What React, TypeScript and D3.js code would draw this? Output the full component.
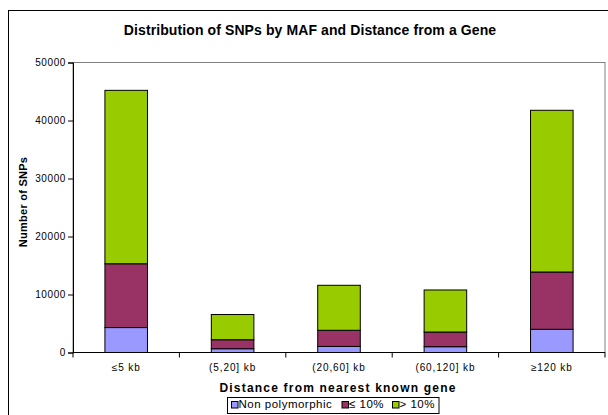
import React, { useEffect, useRef } from "react";
import * as d3 from "d3";

const categories = ["≤5 kb", "(5,20] kb", "(20,60] kb", "(60,120] kb", "≥120 kb"];
const nonPolymorphic = [4300, 650, 1050, 1000, 4000];
const mafLow = [11000, 1550, 2780, 2530, 9880];
const mafHigh = [29900, 4350, 7760, 7250, 27880];
const seriesNames = ["Non polymorphic", "≤ 10%", "> 10%"];
const seriesColors = ["#9999FF", "#993366", "#99CC00"];
const yTicks = [0, 10000, 20000, 30000, 40000, 50000];

const App = () => {
  const chartRef = useRef<SVGSVGElement>(null);

  useEffect(() => {
    const width = 608;
    const margin = { top: 62.5, right: 3, left: 73 };
    const plotBottom = 352.5;
    const font = "'Liberation Sans', Arial, sans-serif";

    const svg = d3.select(chartRef.current);
    svg.selectAll("*").remove();

    // outer chart frame
    svg
      .append("rect")
      .attr("x", 8.5)
      .attr("y", 10.5)
      .attr("width", 620)
      .attr("height", 430)
      .attr("fill", "#fff")
      .attr("stroke", "#000")
      .attr("stroke-width", 1);

    const x = d3
      .scaleBand()
      .domain(categories)
      .range([margin.left, width - margin.right])
      .paddingInner(0.6)
      .paddingOuter(0.3);

    const y = d3.scaleLinear().domain([0, 50000]).range([plotBottom, margin.top]);

    const y0 = y(0);

    // plot area border
    svg
      .append("rect")
      .attr("x", margin.left)
      .attr("y", margin.top)
      .attr("width", width - margin.right - margin.left)
      .attr("height", y0 - margin.top)
      .attr("fill", "none")
      .attr("stroke", "#808080")
      .attr("stroke-width", 1);

    const rows = categories.map((c, i) => ({
      cat: c,
      s0: nonPolymorphic[i],
      s1: mafLow[i],
      s2: mafHigh[i],
    }));
    const layers = d3.stack<any>().keys(["s0", "s1", "s2"])(rows);

    layers.forEach((layer, li) => {
      svg
        .append("g")
        .selectAll("rect")
        .data(layer)
        .enter()
        .append("rect")
        .attr("x", (d: any) => x(d.data.cat)!)
        .attr("width", x.bandwidth())
        .attr("y", (d) => y(d[1]))
        .attr("height", (d) => y(d[0]) - y(d[1]))
        .attr("fill", seriesColors[li])
        .attr("stroke", "#000")
        .attr("stroke-width", 1);
    });

    // y axis
    const yAxis = svg
      .append("g")
      .attr("transform", `translate(${margin.left}, 0)`)
      .call(d3.axisLeft(y).tickValues(yTicks).tickSize(5).tickPadding(2).tickFormat(d3.format("d")));
    yAxis.select(".domain").attr("stroke", "#000");
    yAxis
      .selectAll("text")
      .style("font-family", font)
      .style("font-size", "10px")
      .style("letter-spacing", "0.6px")
      .attr("fill", "#000");

    // x axis
    const xAxis = svg.append("g").attr("transform", `translate(0, ${y0})`);
    xAxis
      .append("line")
      .attr("x1", margin.left)
      .attr("x2", width - margin.right)
      .attr("y1", 0)
      .attr("y2", 0)
      .attr("stroke", "#000");
    const bounds = categories.map((c) => x(c)! - (x.step() * 0.6) / 2).concat([width - margin.right]);
    xAxis
      .selectAll(".xtick")
      .data(bounds)
      .enter()
      .append("line")
      .attr("x1", (d) => d)
      .attr("x2", (d) => d)
      .attr("y1", 0)
      .attr("y2", 5)
      .attr("stroke", "#000");
    xAxis
      .selectAll(".xlabel")
      .data(categories)
      .enter()
      .append("text")
      .attr("x", (d) => x(d)! + x.bandwidth() / 2)
      .attr("y", 18.5)
      .attr("text-anchor", "middle")
      .style("font-family", font)
      .style("font-size", "10px")
      .style("letter-spacing", "0.9px")
      .text((d) => d);

    // titles
    svg
      .append("text")
      .attr("x", 310)
      .attr("y", 35)
      .attr("text-anchor", "middle")
      .style("font-family", font)
      .style("font-size", "14px")
      .style("font-weight", "bold")
      .style("letter-spacing", "0.1px")
      .text("Distribution of SNPs by MAF and Distance from a Gene");

    svg
      .append("text")
      .attr("x", 338)
      .attr("y", 391.7)
      .attr("text-anchor", "middle")
      .style("font-family", font)
      .style("font-size", "12px")
      .style("font-weight", "bold")
      .style("letter-spacing", "1.2px")
      .text("Distance from nearest known gene");

    svg
      .append("text")
      .attr("transform", `translate(27, 202) rotate(-90)`)
      .attr("text-anchor", "middle")
      .style("font-family", font)
      .style("font-size", "11px")
      .style("font-weight", "bold")
      .style("letter-spacing", "0.25px")
      .text("Number of SNPs");

    // legend
    const legend = svg.append("g");
    legend
      .append("rect")
      .attr("x", 227.5)
      .attr("y", 397.5)
      .attr("width", 211.5)
      .attr("height", 16)
      .attr("fill", "#fff")
      .attr("stroke", "#000");
    const legendX = [231, 341.5, 392];
    seriesNames.forEach((name, i) => {
      legend
        .append("rect")
        .attr("x", legendX[i] + 0.5)
        .attr("y", 401.5)
        .attr("width", 6.5)
        .attr("height", 6.5)
        .attr("fill", seriesColors[i])
        .attr("stroke", "#000");
      legend
        .append("text")
        .attr("x", legendX[i] + 7.5)
        .attr("y", 408.3)
        .style("font-family", font)
        .style("font-size", "11.5px")
        .style("letter-spacing", "0.5px")
        .text(name);
    });
  }, []);

  return (
    <svg
      ref={chartRef}
      width={608}
      height={415}
      style={{ position: "absolute", left: 0, top: 0, background: "#fff" }}
    />
  );
};

export default App;
